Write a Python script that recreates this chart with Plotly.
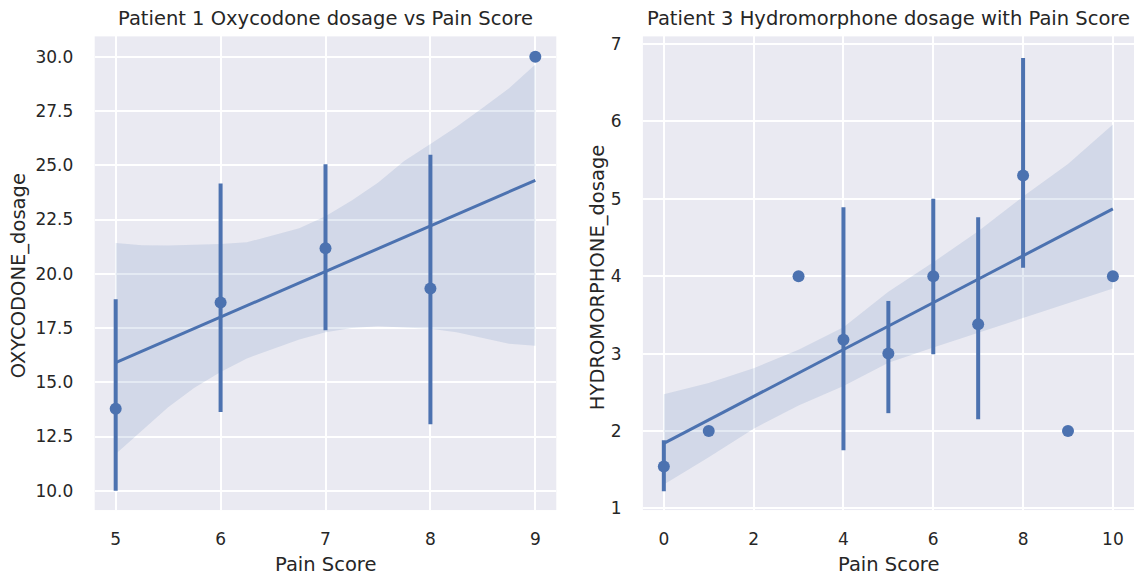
import plotly.graph_objects as go

# ---- Patient 1: oxycodone dosage by pain score ----
p1_score = [5, 6, 7, 8, 9]
p1_mean = [13.78, 18.68, 21.18, 19.32, 30.0]
p1_ci_low = [10.0, 13.63, 17.40, 13.06, 30.0]
p1_ci_high = [18.83, 24.16, 25.05, 25.49, 30.0]

p1_fit_x = [5, 9]
p1_fit_y = [15.90, 24.31]

p1_band_x = [5.0, 5.25, 5.5, 5.75, 6.0, 6.25, 6.5, 6.75, 7.0, 7.25, 7.5, 7.75, 8.0, 8.25, 8.5, 8.75, 9.0]
p1_band_high = [21.42, 21.32, 21.30, 21.34, 21.37, 21.45, 21.78, 22.10, 22.65, 23.38, 24.20, 25.20, 25.98, 26.78, 27.65, 28.55, 29.65]
p1_band_low = [11.69, 12.78, 13.85, 14.75, 15.47, 16.10, 16.55, 16.97, 17.30, 17.50, 17.58, 17.51, 17.47, 17.30, 17.05, 16.78, 16.68]

p1_yticks = [10.0, 12.5, 15.0, 17.5, 20.0, 22.5, 25.0, 27.5, 30.0]
p1_xticks = [5, 6, 7, 8, 9]

# ---- Patient 3: hydromorphone dosage by pain score ----
p3_score = [0, 1, 3, 4, 5, 6, 7, 8, 9, 10]
p3_mean = [1.54, 2.0, 4.0, 3.18, 3.0, 4.0, 3.38, 5.30, 2.0, 4.0]
p3_ci_low = [1.22, 2.0, 4.0, 1.75, 2.23, 2.99, 2.15, 4.11, 2.0, 4.0]
p3_ci_high = [1.88, 2.0, 4.0, 4.89, 3.68, 5.00, 4.76, 6.82, 2.0, 4.0]

p3_fit_x = [0, 10]
p3_fit_y = [1.84, 4.87]

p3_band_x = [0, 1, 2, 3, 4, 5, 6, 7, 8, 9, 10]
p3_band_high = [2.475, 2.62, 2.81, 3.05, 3.34, 3.80, 4.18, 4.58, 5.03, 5.45, 5.96]
p3_band_low = [1.31, 1.66, 2.03, 2.33, 2.58, 2.88, 3.08, 3.28, 3.46, 3.65, 3.84]

p3_yticks = [1, 2, 3, 4, 5, 6, 7]
p3_xticks = [0, 2, 4, 6, 8, 10]

BLUE = "#4C72B0"
BAND = "rgba(76,114,176,0.15)"
BG = "#EAEAF2"
TEXT = "#262626"
FONT = "DejaVu Sans"

W, H = 1139, 579


def px_x(p):
    return p / W


def px_y(p):
    return 1 - p / H


fig = go.Figure()


def add_panel(xa, ya, score, mean, lo, hi, fx, fy, bx, blo, bhi):
    # bootstrap confidence band around the fit
    fig.add_trace(go.Scatter(
        x=list(bx) + list(bx)[::-1],
        y=list(bhi) + list(blo)[::-1],
        fill="toself", fillcolor=BAND, line=dict(width=0),
        mode="lines", hoverinfo="skip", showlegend=False,
        xaxis=xa, yaxis=ya,
    ))
    # regression line
    fig.add_trace(go.Scatter(
        x=fx, y=fy, mode="lines",
        line=dict(color=BLUE, width=3),
        showlegend=False, xaxis=xa, yaxis=ya,
    ))
    # per-score means with confidence intervals
    fig.add_trace(go.Scatter(
        x=score, y=mean, mode="markers",
        marker=dict(color=BLUE, size=12),
        error_y=dict(
            type="data", symmetric=False,
            array=[h - m for h, m in zip(hi, mean)],
            arrayminus=[m - l for m, l in zip(mean, lo)],
            color=BLUE, thickness=4, width=0,
        ),
        showlegend=False, xaxis=xa, yaxis=ya,
    ))


add_panel("x", "y", p1_score, p1_mean, p1_ci_low, p1_ci_high,
          p1_fit_x, p1_fit_y, p1_band_x, p1_band_low, p1_band_high)
add_panel("x2", "y2", p3_score, p3_mean, p3_ci_low, p3_ci_high,
          p3_fit_x, p3_fit_y, p3_band_x, p3_band_low, p3_band_high)

axis_common = dict(
    showgrid=True, gridcolor="white", gridwidth=1.5,
    zeroline=False, showline=False,
    ticks="outside", tickcolor="rgba(0,0,0,0)",
    tickfont=dict(family=FONT, size=17, color=TEXT),
)

left_l, left_r = 94.7, 556.3
right_l, right_r = 642.9, 1134.0
top, bottom = 35.0, 517.0

fig.update_layout(
    width=W, height=H,
    margin=dict(l=0, r=0, t=0, b=0),
    paper_bgcolor="white", plot_bgcolor=BG,
    font=dict(family=FONT, color=TEXT),
    xaxis=dict(domain=[px_x(left_l), px_x(left_r)], range=[4.8, 9.2],
               tickvals=p1_xticks, ticklen=14, anchor="y", **axis_common),
    yaxis=dict(domain=[px_y(bottom), px_y(top)], range=[9.11, 30.94],
               tickvals=p1_yticks, tickformat=".1f", ticklen=17, anchor="x",
               **axis_common),
    xaxis2=dict(domain=[px_x(right_l), px_x(right_r)], range=[-0.466, 10.47],
                tickvals=p3_xticks, ticklen=14, anchor="y2", **axis_common),
    yaxis2=dict(domain=[px_y(bottom), px_y(top)], range=[0.978, 7.098],
                tickvals=p3_yticks, ticklen=17, anchor="x2", **axis_common),
)

title_font = dict(family=FONT, size=19.5, color=TEXT)
annotations = [
    dict(text="Patient 1 Oxycodone dosage vs Pain Score",
         x=px_x((left_l + left_r) / 2), y=px_y(17)),
    dict(text="Patient 3 Hydromorphone dosage with Pain Score",
         x=px_x((right_l + right_r) / 2), y=px_y(17)),
    dict(text="Pain Score", x=px_x((left_l + left_r) / 2), y=px_y(572)),
    dict(text="Pain Score", x=px_x((right_l + right_r) / 2), y=px_y(572)),
    dict(text="OXYCODONE_dosage", x=px_x(18), y=px_y(279), textangle=-90),
    dict(text="HYDROMORPHONE_dosage", x=px_x(597), y=px_y(281), textangle=-90),
]
for a in annotations:
    fig.add_annotation(xref="paper", yref="paper", showarrow=False,
                       xanchor="center", yanchor="middle", font=title_font, **a)

fig.write_html("out.html")
